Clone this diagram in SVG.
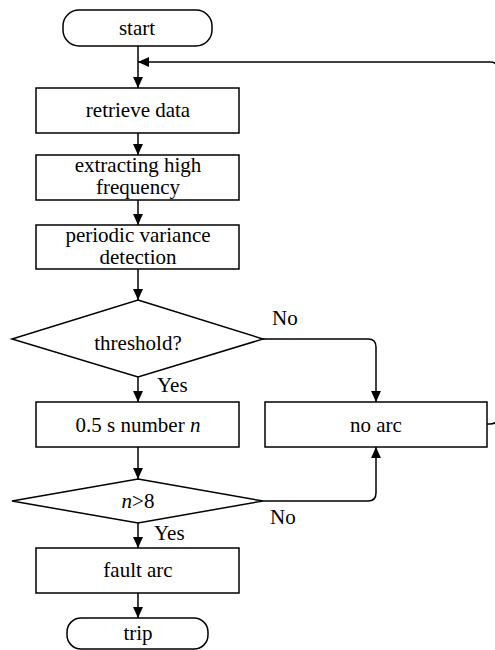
<svg xmlns="http://www.w3.org/2000/svg" width="495" height="650" viewBox="0 0 495 650">
<defs>
<marker id="ah" viewBox="0 0 10 10" refX="10" refY="5" markerWidth="11" markerHeight="11" markerUnits="userSpaceOnUse" orient="auto">
<path d="M0,0.5 L10,5 L0,9.5 Z" fill="#000"/>
</marker>
<style>
.s{fill:#fff;stroke:#000;stroke-width:1.5}
.c{fill:none;stroke:#000;stroke-width:1.5;marker-end:url(#ah)}
text{font-family:"Liberation Serif","Tinos","Noto Serif","DejaVu Serif",serif;font-size:21px;fill:#000}
.m{text-anchor:middle}
</style>
</defs>
<rect width="495" height="650" fill="#fff"/>
<g id="connectors">
<path class="c" d="M138,46 V88"/>
<path class="c" d="M487,424 H490 Q498,424 498,416 V70 Q498,62 490,62 H138"/>
<path class="c" d="M138,133 V155"/>
<path class="c" d="M138,200 V225"/>
<path class="c" d="M138,269 V300"/>
<path class="c" d="M138,377 V402"/>
<path class="c" d="M263,339 H368 Q376,339 376,347 V402"/>
<path class="c" d="M138,447 V479"/>
<path class="c" d="M263,501 H368 Q376,501 376,493 V447"/>
<path class="c" d="M138,523 V548"/>
<path class="c" d="M138,593 V618"/>
<text x="272" y="325">No</text>
<text x="157" y="392">Yes</text>
<text x="270" y="524">No</text>
<text x="154" y="540">Yes</text>
</g>
<g id="start">
<rect class="s" x="63" y="10" width="149" height="36" rx="16"/>
<text class="m" x="137" y="35">start</text>
</g>
<g id="retrieve">
<rect class="s" x="36" y="88" width="203" height="45"/>
<text class="m" x="138" y="117">retrieve data</text>
</g>
<g id="extract">
<rect class="s" x="36" y="155" width="203" height="45"/>
<text class="m" x="138" y="172">extracting high</text>
<text class="m" x="138" y="194">frequency</text>
</g>
<g id="periodic">
<rect class="s" x="36" y="225" width="203" height="44"/>
<text class="m" x="138" y="242">periodic variance</text>
<text class="m" x="138" y="264">detection</text>
</g>
<g id="threshold">
<polygon class="s" points="138,300 263,339 138,377 12,339"/>
<text class="m" x="138" y="350">threshold?</text>
</g>
<g id="count">
<rect class="s" x="36" y="402" width="203" height="45"/>
<text class="m" x="138" y="432">0.5 s number <tspan font-style="italic">n</tspan></text>
</g>
<g id="noarc">
<rect class="s" x="265" y="402" width="222" height="45"/>
<text class="m" x="376" y="432">no arc</text>
</g>
<g id="n8">
<polygon class="s" points="138,479 263,501 138,523 12,501"/>
<text class="m" x="138" y="508"><tspan font-style="italic">n</tspan>&gt;8</text>
</g>
<g id="fault">
<rect class="s" x="36" y="548" width="203" height="45"/>
<text class="m" x="138" y="577">fault arc</text>
</g>
<g id="trip">
<rect class="s" x="67" y="618" width="141" height="31" rx="14"/>
<text class="m" x="138" y="640">trip</text>
</g>
</svg>
